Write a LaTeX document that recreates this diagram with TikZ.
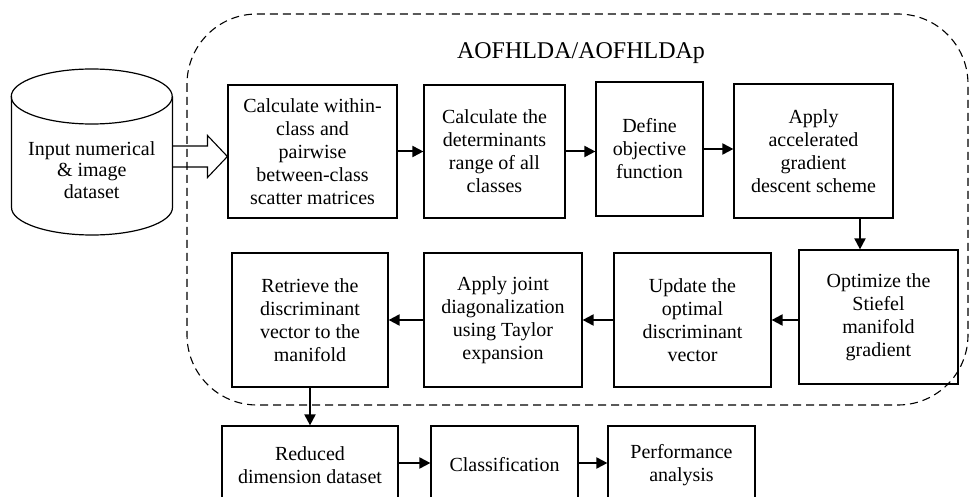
\documentclass[tikz,border=0pt]{standalone}
\usepackage{fontspec}
\setmainfont{Liberation Serif}
\usetikzlibrary{arrows.meta,calc}
\begin{document}
\begin{tikzpicture}[x=1pt,y=-1pt,
  box/.style={draw, line width=1.2pt, align=center, inner sep=0pt, font=\fontsize{20}{23}\selectfont},
  arr/.style={line width=2pt, -{Triangle[length=11pt,width=11pt]}},
  frame/.style={line width=1.1pt, dash pattern=on 8pt off 5pt, rounded corners=70pt},
]
\useasboundingbox (0,0) rectangle (970,497);
% dashed frame
\draw[frame] (187,14) rectangle (968,405);
\node[font=\fontsize{24}{28}\selectfont] (title) at (581,53) {AOFHLDA/AOFHLDAp};
% cylinder
\draw[line width=1.2pt] (91.75,96.5) ellipse [x radius=80.5pt, y radius=27.5pt];
\draw[line width=1.2pt] (11.5,96.5) -- (11.5,207.5) arc[start angle=180, end angle=360, x radius=80.5pt, y radius=27.5pt] -- (172.5,96.5);
\node[align=center, inner sep=0pt, font=\fontsize{20}{21.5}\selectfont] (db) at (91.75,170) {Input numerical\\\& image\\dataset};
\coordinate (dbR) at (172.5,156.5);
% row 1
\node[box, minimum width=169pt, minimum height=133pt] (b1) at (312.5,151.5) {Calculate within-\\class and\\pairwise\\between-class\\scatter matrices};
\node[box, minimum width=141pt, minimum height=133pt] (b2) at (494.5,151.5) {Calculate the\\determinants\\range of all\\classes};
\node[box, minimum width=107pt, minimum height=134pt] (b3) at (649.5,149) {Define\\objective\\function};
\node[box, minimum width=159pt, minimum height=134pt] (b4) at (813.5,151) {Apply\\accelerated\\gradient\\descent scheme};
% row 2
\node[box, minimum width=159pt, minimum height=134pt] (b8) at (878.5,317) {Optimize the\\Stiefel\\manifold\\gradient};
\node[box, minimum width=157pt, minimum height=134pt] (b7) at (692.5,320) {Update the\\optimal\\discriminant\\vector};
\node[box, minimum width=158pt, minimum height=134pt] (b6) at (503,320) {Apply joint\\diagonalization\\using Taylor\\expansion};
\node[box, minimum width=156pt, minimum height=134pt] (b5) at (310,320) {Retrieve the\\discriminant\\vector to the\\manifold};
% row 3
\node[box, minimum width=176pt, minimum height=78pt] (b9) at (310,465) {Reduced\\dimension dataset};
\node[box, minimum width=147pt, minimum height=78pt] (b10) at (504.5,465) {Classification};
\node[box, minimum width=147pt, minimum height=78pt] (b11) at (681.5,465) {Performance\\analysis};
% hollow arrow
\draw[line width=1.1pt, line join=miter] (dbR) ++(0,-10.5) -- ++(35,0) -- ++(0,-10.5) -- (b1.west |- dbR) -- ($(dbR)+(35,21)$) -- ++(0,-10.5) -- ($(dbR)+(0,10.5)$);
% arrows
\draw[arr] (b1.east) -- (b1.east -| b2.west);
\draw[arr] (b2.east) -- (b2.east -| b3.west);
\draw[arr] (b3.east) -- (b3.east -| b4.west);
\draw[arr] (b4.south -| 860,0) -- (b8.north -| 860,0);
\draw[arr] (b8.west |- b7.east) -- (b7.east);
\draw[arr] (b7.west) -- (b6.east);
\draw[arr] (b6.west) -- (b5.east);
\draw[arr] (b5.south) -- (b9.north);
\draw[arr] (b9.east |- 0,463) -- (b10.west |- 0,463);
\draw[arr] (b10.east |- 0,463) -- (b11.west |- 0,463);
\end{tikzpicture}
\end{document}
